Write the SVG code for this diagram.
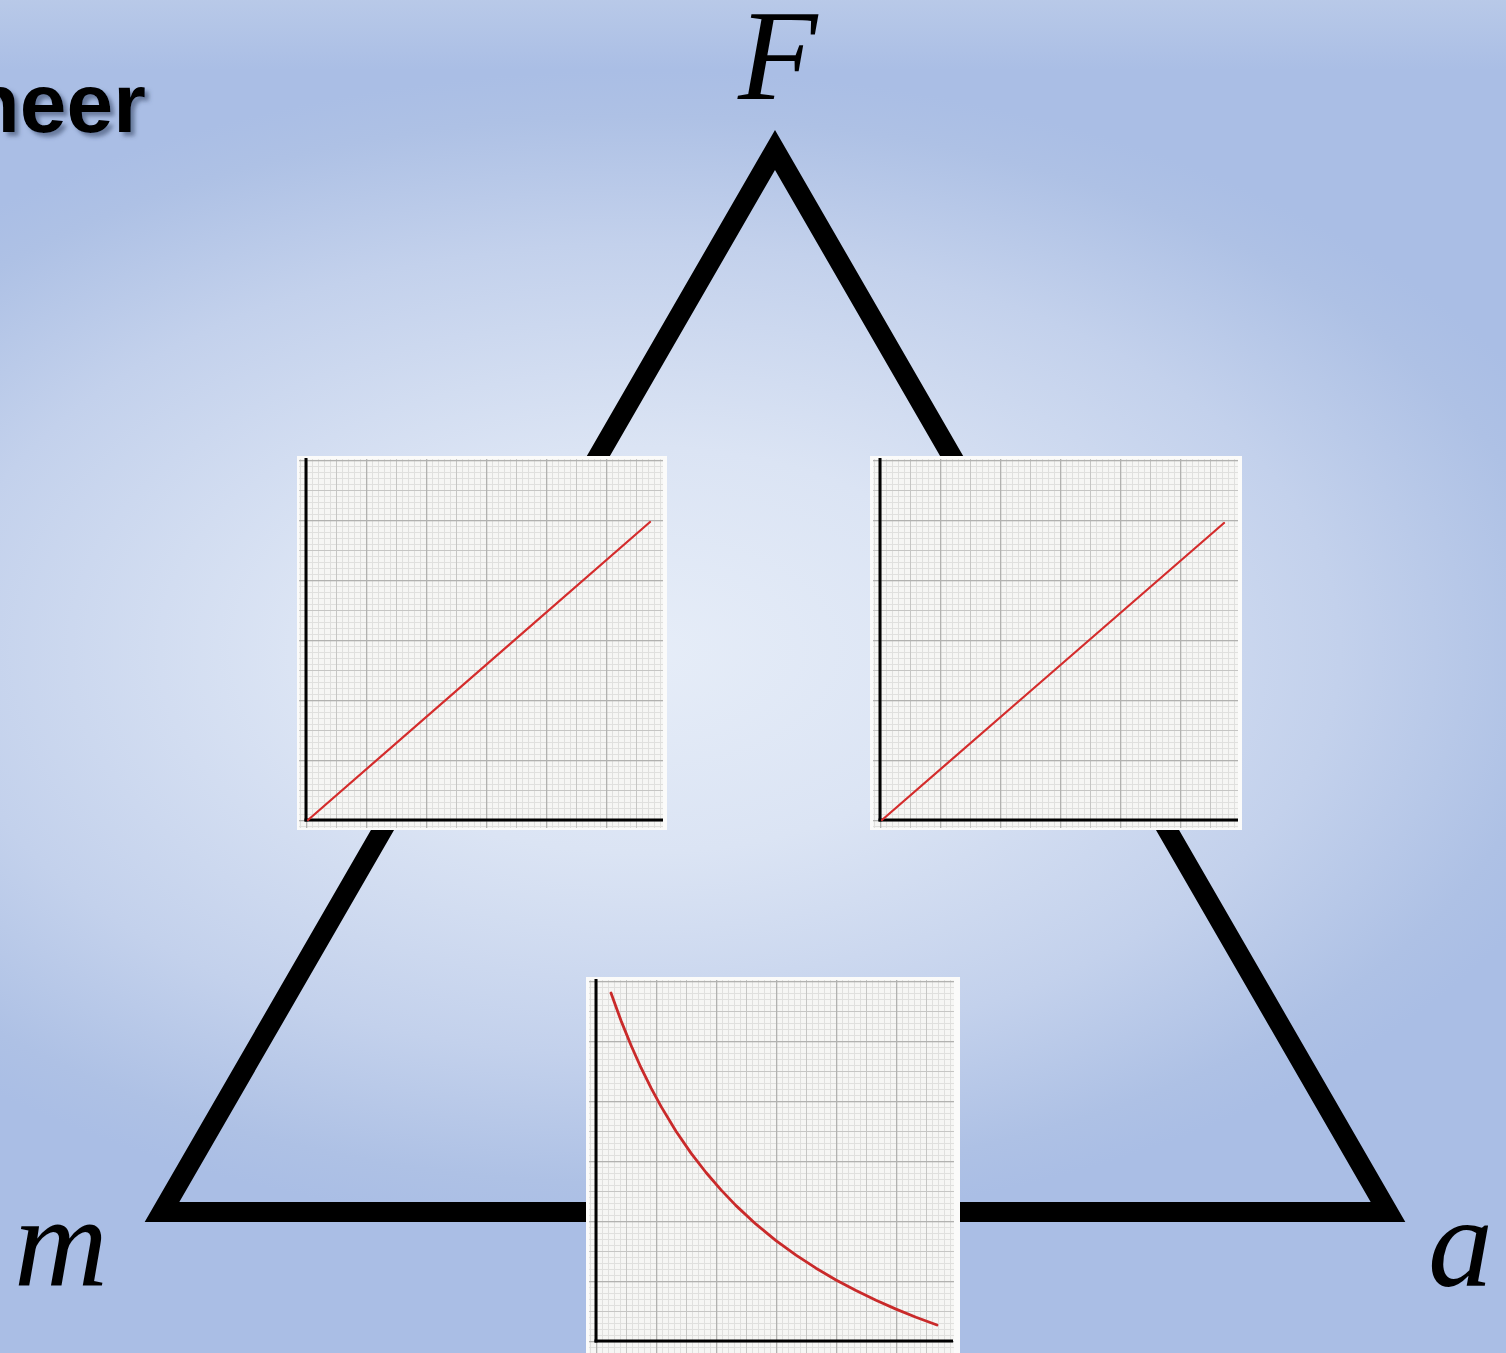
<svg xmlns="http://www.w3.org/2000/svg" width="1506" height="1353" viewBox="0 0 1506 1353">
<defs>
<radialGradient id="bg" gradientUnits="userSpaceOnUse" cx="640" cy="650" r="1000" gradientTransform="translate(640 650) scale(1 0.58) translate(-640 -650)">
<stop offset="0" stop-color="#e6edf8"/>
<stop offset="0.35" stop-color="#dbe4f4"/>
<stop offset="0.7" stop-color="#c3d1ec"/>
<stop offset="0.92" stop-color="#aec1e5"/>
<stop offset="1" stop-color="#aabee5"/>
</radialGradient>
<linearGradient id="topband" x1="0" y1="0" x2="0" y2="1">
<stop offset="0" stop-color="#bccce9" stop-opacity="0.8"/>
<stop offset="1" stop-color="#bccce9" stop-opacity="0"/>
</linearGradient>
<pattern id="grid" patternUnits="userSpaceOnUse" x="0" y="0" width="60" height="60">
<rect width="60" height="60" fill="#f6f6f4"/>
<g fill="#e0e0de">
<rect x="6" y="0" width="1" height="60"/><rect x="12" y="0" width="1" height="60"/><rect x="18" y="0" width="1" height="60"/><rect x="24" y="0" width="1" height="60"/>
<rect x="36" y="0" width="1" height="60"/><rect x="42" y="0" width="1" height="60"/><rect x="48" y="0" width="1" height="60"/><rect x="54" y="0" width="1" height="60"/>
<rect y="6" x="0" height="1" width="60"/><rect y="12" x="0" height="1" width="60"/><rect y="18" x="0" height="1" width="60"/><rect y="24" x="0" height="1" width="60"/>
<rect y="36" x="0" height="1" width="60"/><rect y="42" x="0" height="1" width="60"/><rect y="48" x="0" height="1" width="60"/><rect y="54" x="0" height="1" width="60"/>
</g>
<g fill="#c6c6c4">
<rect x="30" y="0" width="1" height="60"/><rect y="30" x="0" height="1" width="60"/>
</g>
<g fill="#b2b2b0">
<rect x="0" y="0" width="1.3" height="60"/><rect y="0" x="0" height="1.3" width="60"/>
</g>
</pattern>
<filter id="shadow" x="-10%" y="-20%" width="130%" height="150%">
<feGaussianBlur in="SourceAlpha" stdDeviation="2"/>
<feOffset dx="4" dy="4" result="b"/>
<feFlood flood-color="#3a4a6a" flood-opacity="0.6"/>
<feComposite in2="b" operator="in"/>
<feMerge><feMergeNode/><feMergeNode in="SourceGraphic"/></feMerge>
</filter>
<style>
.lbl{font-family:"Liberation Serif","Times New Roman",serif;font-style:italic;font-size:130px;fill:#000}
.ax{stroke:#000;stroke-width:3;fill:none}
.red{stroke:#d42c2c;stroke-width:2.2;fill:none;stroke-linecap:round;stroke-linejoin:round}
.curve{stroke:#c92a2a;stroke-width:2.8}
</style>
</defs>
<rect width="1506" height="1353" fill="#aabee5"/>
<rect width="1506" height="1353" fill="url(#bg)"/>
<rect width="1506" height="70" fill="url(#topband)"/>
<text x="146" y="132" text-anchor="end" font-family="'Liberation Sans',Arial,sans-serif" font-weight="bold" font-size="84" fill="#000" filter="url(#shadow)">neer</text>
<g id="connectors">
<polygon points="775,150 162,1212 1388,1212" fill="none" stroke="#000" stroke-width="20" stroke-linejoin="miter" stroke-miterlimit="10"/>
</g>
<g id="label-F"><text class="lbl" x="738" y="99">F</text></g>
<g id="label-m"><text class="lbl" x="14" y="1286">m</text></g>
<g id="label-a"><text class="lbl" x="1428" y="1286">a</text></g>
<g id="graph-Fm" transform="translate(306 820)">
<rect x="-9" y="-364" width="370" height="374" fill="#fbfbfa"/>
<rect x="-7" y="-361" width="364" height="369" fill="url(#grid)"/>
<line class="ax" x1="0" y1="-362" x2="0" y2="1.5"/>
<line class="ax" x1="-1.5" y1="0" x2="357" y2="0"/>
<line class="red" x1="2" y1="0" x2="344" y2="-298"/>
</g>
<g id="graph-Fa" transform="translate(880 820)">
<rect x="-10" y="-364" width="372" height="374" fill="#fbfbfa"/>
<rect x="-7" y="-361" width="365" height="369" fill="url(#grid)"/>
<line class="ax" x1="0" y1="-362" x2="0" y2="1.5"/>
<line class="ax" x1="-1.5" y1="0" x2="358" y2="0"/>
<line class="red" x1="2" y1="0" x2="344" y2="-297"/>
</g>
<g id="graph-ma" transform="translate(596 1341)">
<rect x="-10" y="-364" width="374" height="376" fill="#fbfbfa"/>
<rect x="-7" y="-361" width="365" height="373" fill="url(#grid)"/>
<line class="ax" x1="0" y1="-362" x2="0" y2="1.5"/>
<line class="ax" x1="-1.5" y1="0" x2="357" y2="0"/>
<polyline class="red curve" points="15,-348 25,-320.4 35,-295.7 45,-273.3 55,-253.1 65,-234.6 80,-209.8 95,-187.9 110,-168.5 125,-151.1 140,-135.4 160,-116.8 180,-100.4 200,-85.8 220,-72.8 240,-61 260,-50.4 280,-40.7 300,-31.9 320,-23.8 341,-16"/>
</g>
</svg>
